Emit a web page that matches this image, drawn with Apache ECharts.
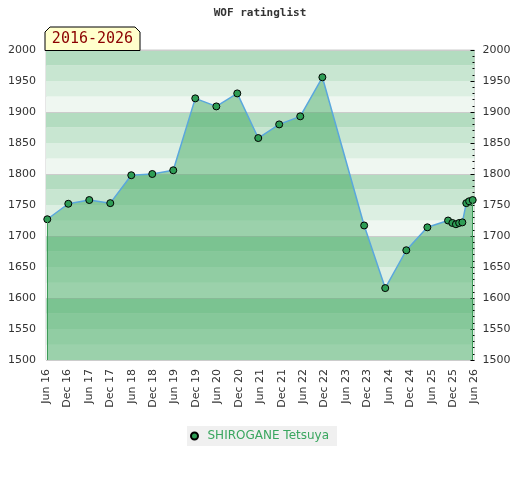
<!DOCTYPE html>
<html>
<head>
<meta charset="utf-8">
<title>WOF ratinglist</title>
<script src="https://cdn.jsdelivr.net/npm/echarts@6/dist/echarts.min.js"></script>
<style>
  html, body { margin: 0; padding: 0; background: #fff; }
  #chart { width: 520px; height: 480px; }
</style>
</head>
<body>
<div id="chart"></div>
<script>
// x = months since Jun 2016
var months = [0.36, 6.24, 12.12, 18.0, 23.88, 29.76, 35.64, 41.8, 47.7, 53.56, 59.44, 65.3, 71.2,
  77.4, 89.1, 95.0, 100.9, 106.8, 112.6, 113.8, 114.8, 115.7, 116.6, 117.7, 118.5, 119.5];
var ratings = [1727, 1752, 1758, 1753, 1798, 1800, 1806, 1922, 1909, 1930, 1858, 1880, 1893,
  1956, 1717, 1616, 1677, 1714, 1725, 1721, 1719, 1721, 1722, 1753, 1756, 1758];
var tickLabels = ['Jun 16', 'Dec 16', 'Jun 17', 'Dec 17', 'Jun 18', 'Dec 18', 'Jun 19', 'Dec 19',
  'Jun 20', 'Dec 20', 'Jun 21', 'Dec 21', 'Jun 22', 'Dec 22', 'Jun 23', 'Dec 23', 'Jun 24',
  'Dec 24', 'Jun 25', 'Dec 25', 'Jun 26'];
var yMin = 1500, yMax = 2000, yStep = 50;
var playerName = 'SHIROGANE Tetsuya';
var period = '2016-2026';

var chart = echarts.init(document.getElementById('chart'));

var points = months.map(function (m, i) { return [m, ratings[i]]; });
var last = points.length - 1;

function yAxisBase(pos) {
  return {
    type: 'value',
    position: pos,
    min: yMin,
    max: yMax,
    interval: yStep,
    axisLine: { show: false },
    splitLine: { show: false },
    axisLabel: {
      color: '#333',
      fontSize: 11,
      fontFamily: 'DejaVu Sans',
      formatter: function (v) { return String(v); }
    }
  };
}

var leftAxis = yAxisBase('left');
leftAxis.axisTick = { show: false };
leftAxis.axisLabel.margin = 10;

var rightAxis = yAxisBase('right');
rightAxis.axisTick = { show: true, inside: true, length: 4, lineStyle: { color: '#000' } };
rightAxis.minorTick = { show: true, splitNumber: 5, length: 2, lineStyle: { color: '#000' } };
rightAxis.axisLabel.margin = 8;

// background bands every 25, grey line every 100
var bandAxis = {
  type: 'value',
  position: 'left',
  min: yMin,
  max: yMax,
  interval: 25,
  axisLine: { show: false },
  axisTick: { show: false },
  axisLabel: { show: false },
  splitArea: { show: true, areaStyle: { color: ['#eff7f1', '#dcefe2', '#c8e6d1', '#b3dcc0'] } },
  splitLine: { show: true, lineStyle: { color: ['#cccccc', 'transparent', 'transparent', 'transparent'] } }
};

var option = {
  animation: false,
  title: {
    text: 'WOF ratinglist',
    left: 'center',
    top: 8,
    padding: 0,
    textStyle: { fontFamily: 'DejaVu Sans Mono', fontWeight: 'bold', fontSize: 11, color: '#333' }
  },
  legend: {
    left: 187,
    top: 426,
    padding: [4, 8, 4, 3],
    backgroundColor: '#f0f0f0',
    icon: 'circle',
    itemWidth: 16,
    itemHeight: 7,
    textStyle: { color: '#3aa65f', fontSize: 12, fontFamily: 'DejaVu Sans' },
    data: [playerName]
  },
  grid: {
    left: 46,
    right: 45.5,
    top: 50,
    bottom: 120,
    show: true,
    borderColor: '#cccccc',
    borderWidth: 1
  },
  xAxis: {
    type: 'value',
    min: 0,
    max: 120,
    interval: 6,
    axisLine: { show: false },
    axisTick: { show: false },
    splitLine: { show: false },
    axisLabel: {
      rotate: 90,
      margin: 9,
      color: '#333',
      fontSize: 11,
      fontFamily: 'DejaVu Sans',
      formatter: function (v) { return tickLabels[Math.round(v / 6)]; }
    }
  },
  yAxis: [leftAxis, rightAxis, bandAxis],
  graphic: [{
    type: 'polygon',
    shape: { points: [[45, 50.5], [45, 32], [50, 27], [135, 27], [140, 32], [140, 50.5]] },
    style: { fill: '#ffffcc', stroke: '#000', lineWidth: 1 },
    z: 10
  }, {
    type: 'text',
    x: 92.5,
    y: 39.5,
    style: {
      text: period,
      fill: '#8b0000',
      font: '15px "DejaVu Sans Mono"',
      align: 'center',
      verticalAlign: 'middle'
    },
    z: 11
  }],
  series: [{
    name: playerName,
    type: 'line',
    yAxisIndex: 0,
    data: points,
    symbol: 'circle',
    symbolSize: 7,
    itemStyle: { color: '#2e9d55', borderColor: '#000', borderWidth: 1 },
    lineStyle: { color: '#5aa7dd', width: 1.5 },
    areaStyle: { color: '#3ea85e', opacity: 0.48, origin: 'start' },
    markLine: {
      silent: true,
      symbol: 'none',
      label: { show: false },
      lineStyle: { color: '#3d9b58', width: 1, type: 'solid' },
      data: [
        [{ coord: points[0] }, { coord: [months[0], yMin] }],
        [{ coord: points[last] }, { coord: [months[last], yMin] }]
      ]
    }
  }]
};

chart.setOption(option);
</script>
</body>
</html>
